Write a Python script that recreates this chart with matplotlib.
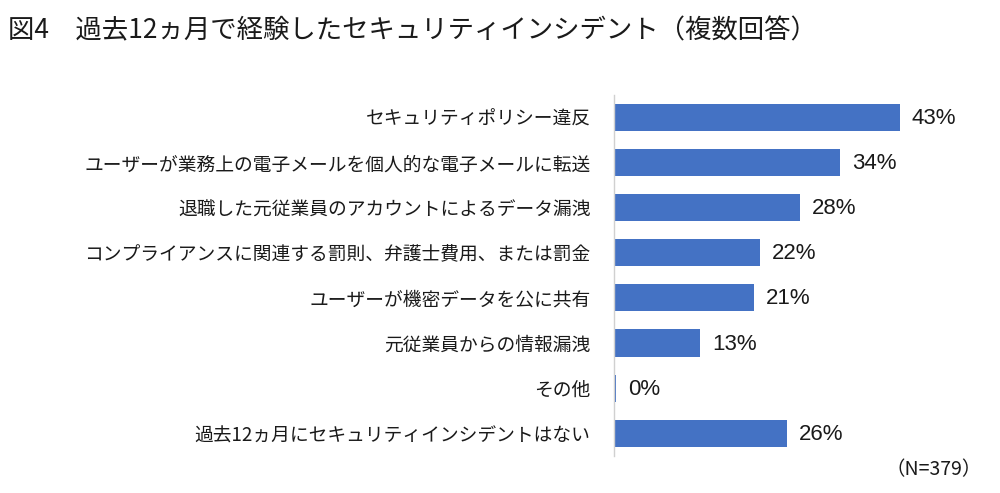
import matplotlib
matplotlib.use("Agg")
import matplotlib.pyplot as plt

plt.rcParams['font.family'] = ['Noto Sans CJK JP', 'DejaVu Sans']

categories = [
    "セキュリティポリシー違反",
    "ユーザーが業務上の電子メールを個人的な電子メールに転送",
    "退職した元従業員のアカウントによるデータ漏洩",
    "コンプライアンスに関連する罰則、弁護士費用、または罰金",
    "ユーザーが機密データを公に共有",
    "元従業員からの情報漏洩",
    "その他",
    "過去12ヵ月にセキュリティインシデントはない",
]
values = [43, 34, 28, 22, 21, 13, 0.3, 26]
value_labels = ["43%", "34%", "28%", "22%", "21%", "13%", "0%", "26%"]
title = "図4　過去12ヵ月で経験したセキュリティインシデント（複数回答）"
note = "（N=379）"

W, H = 1000, 493
fig = plt.figure(figsize=(W / 100, H / 100), dpi=100)
ax_left, ax_right = 614, 990
ax_top, ax_bottom = 94.5, 456
ax = fig.add_axes([ax_left / W, 1 - ax_bottom / H, (ax_right - ax_left) / W, (ax_bottom - ax_top) / H])

y = list(range(len(categories)))
ax.barh(y, values, height=0.6, color="#4472C4", zorder=2)
ax.set_ylim(len(categories) - 0.5, -0.5)
ax.set_xlim(0, (ax_right - ax_left) / 6.65)

ax.set_yticks(y)
ax.set_yticklabels(categories, fontsize=13.5, color="#1a1a1a")
ax.tick_params(axis='y', length=0, pad=17)
ax.set_xticks([])
for s in ["top", "right", "bottom"]:
    ax.spines[s].set_visible(False)
ax.spines["left"].set_color("#d0d0d0")
ax.spines["left"].set_linewidth(1.0)

for yi, v, lab in zip(y, values, value_labels):
    ax.annotate(lab, xy=(v, yi), xytext=(12, -1), textcoords="offset pixels",
                va="center", ha="left", fontsize=16, color="#1a1a1a",
                family=["Liberation Sans", "DejaVu Sans"])

fig.text(8 / W, 1 - 31 / H, title, fontsize=19, va="center", ha="left", color="#1a1a1a")
fig.text(982 / W, 1 - 470 / H, note, fontsize=14, va="center", ha="right", color="#1a1a1a",
         family=["Noto Sans CJK JP", "DejaVu Sans"])

fig.savefig("out.png", dpi=100, facecolor="white")
